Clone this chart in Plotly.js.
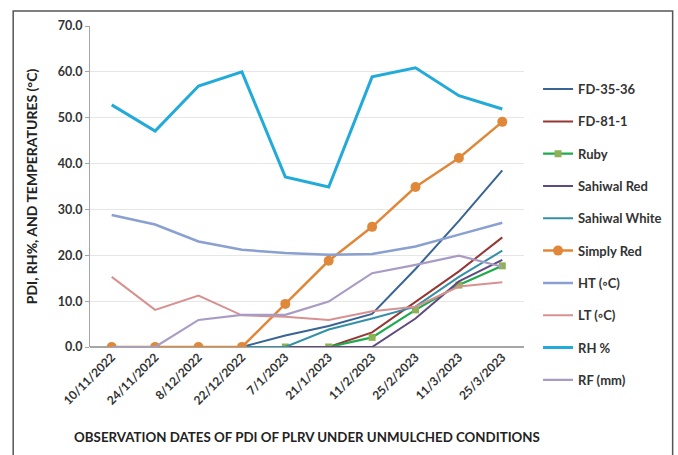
<!DOCTYPE html>
<html>
<head>
<meta charset="utf-8">
<script src="https://cdn.plot.ly/plotly-3.0.1.min.js"></script>
<style>html,body{margin:0;padding:0;background:#fff}#chart{width:678px;height:455px}</style>
</head>
<body>
<div id="chart"></div>
<script>
const dates = ["10/11/2022","24/11/2022","8/12/2022","22/12/2022","7/1/2023","21/1/2023","11/2/2023","25/2/2023","11/3/2023","25/3/2023"];
const fd3536 = [0,0,0,0,2.5,4.6,7.2,17.0,27.5,38.5];
const fd811 = [0,0,0,0,0,0,3.2,9.9,16.5,23.9];
const ruby = [0,0,0,0,0,0,2.1,8.1,13.5,17.7];
const sahiwalRed = [0,0,0,0,0,0,0,6.2,14.3,19.0];
const sahiwalWhite = [0,0,0,0,0,3.8,6.2,8.8,15.3,21.0];
const simplyRed = [0,0,0,0,9.4,18.8,26.2,34.9,41.2,49.1];
const ht = [28.8,26.7,23.0,21.2,20.5,20.1,20.3,21.9,24.5,27.1];
const lt = [15.3,8.1,11.2,6.9,6.6,5.9,7.8,8.8,13.2,14.1];
const rh = [52.8,47.1,56.9,60.0,37.1,34.9,58.9,60.9,54.8,51.9];
const rf = [0,0,5.9,7.0,7.0,9.9,16.1,17.9,19.9,17.5];

function tr(name, y, color, width, marker){
  const t = {x: dates, y: y, name: name, type:'scatter', mode: marker ? 'lines+markers' : 'lines',
    line:{color:color, width:width}, legendgroup:name};
  if (marker) t.marker = marker;
  return t;
}
const data = [
  tr('FD-35-36', fd3536, '#3A6494', 2),
  tr('FD-81-1', fd811, '#953735', 2),
  tr('Ruby', ruby, '#1EAA4E', 2.2, {symbol:'square', size:7, color:'#8DB255'}),
  tr('Sahiwal Red', sahiwalRed, '#5E4A7E', 2),
  tr('Sahiwal White', sahiwalWhite, '#3390A6', 2),
  tr('Simply Red', simplyRed, '#E0883A', 2.5, {symbol:'circle', size:10, color:'#E0883A'}),
  tr('HT (◦C)', ht, '#8AA0D0', 2.5),
  tr('LT (◦C)', lt, '#D79190', 2),
  tr('RH %', rh, '#22AAD8', 3),
  tr('RF (mm)', rf, '#A99BC4', 2.2)
];
const font = "Lato, 'Open Sans', sans-serif";
const layout = {
  width:678, height:455,
  margin:{l:90, r:153, t:26, b:108},
  paper_bgcolor:'#fff', plot_bgcolor:'#fff',
  font:{family:font, color:'#333'},
  showlegend:true,
  legend:{x:1.03, xanchor:'left', y:0.85, yanchor:'top', font:{size:13, color:'#333', family:font, weight:'bold'},
    tracegroupgap:12.4, itemwidth:30, bgcolor:'rgba(0,0,0,0)'},
  xaxis:{type:'category', range:[-0.5,9.5], tickangle:-45, showgrid:false, showline:false, zeroline:false,
    ticks:'', tickfont:{size:12, color:'#333', family:font, weight:'bold'},
    title:{text:'OBSERVATION DATES OF PDI OF PLRV UNDER UNMULCHED CONDITIONS', font:{size:13.3, color:'#222', family:font, weight:'bold'}, standoff:26}},
  yaxis:{range:[0,70], dtick:10, tickformat:'.1f', showgrid:true, gridcolor:'#E6E6E6', gridwidth:1,
    showline:true, linecolor:'#A6A6A6', linewidth:1, ticks:'outside', ticklen:4, tickcolor:'#A6A6A6',
    zeroline:true, zerolinecolor:'#A6A6A6', zerolinewidth:1.5,
    tickfont:{size:12.5, color:'#333', family:font, weight:'bold'},
    title:{text:'PDI, RH%, AND TEMPERATURES (°C)', font:{size:14, color:'#222', family:font, weight:'bold'}, standoff:16}},
  shapes:[{type:'rect', xref:'paper', yref:'paper', x0:-0.177, x1:1.3425, y0:-0.36, y1:1.0467,
    line:{color:'#555', width:1.5}}]
};
Plotly.newPlot('chart', data, layout, {staticPlot:true, displayModeBar:false});
</script>
</body>
</html>
